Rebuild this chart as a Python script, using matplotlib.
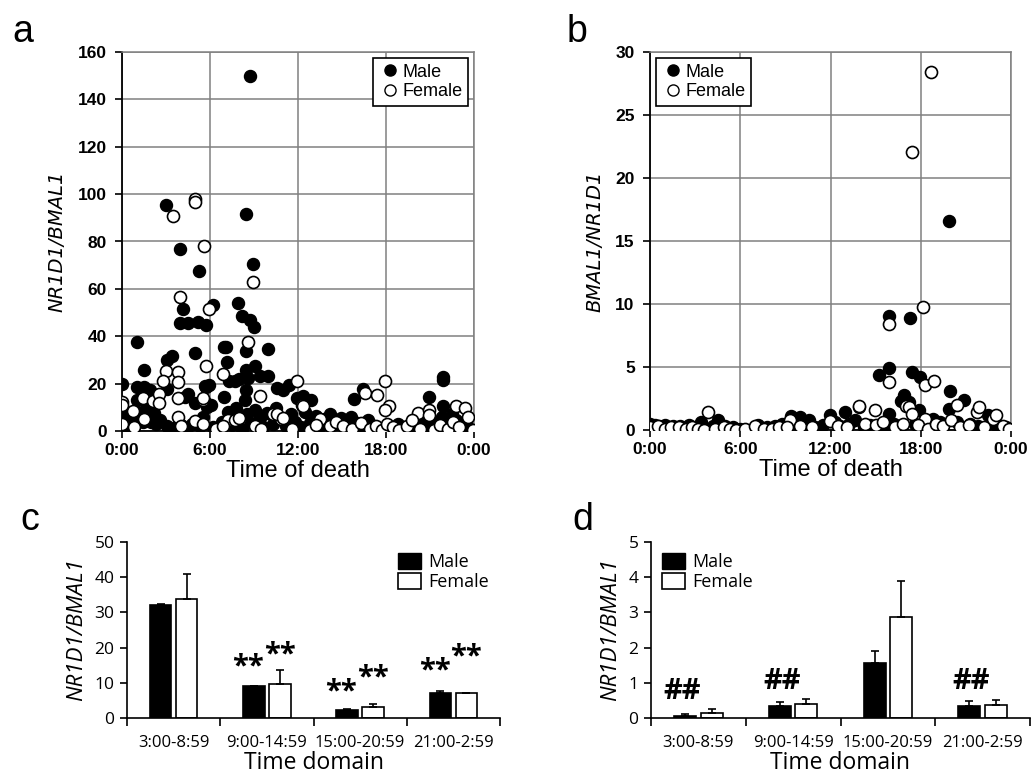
import matplotlib
matplotlib.use("Agg")
import matplotlib.pyplot as plt
import numpy as np
from matplotlib.patches import Patch
from matplotlib.lines import Line2D

# ---- panel a: NR1D1/BMAL1 vs time of death (hours) ----
a_male_t = [0.0, 1.0, 1.5, 3.05, 3.43, 2.98, 3.95, 4.18, 3.95, 4.52, 5.2, 5.7, 5.25, 5.0,
            6.22, 7.93, 8.16, 8.73, 9.0, 8.43, 8.95, 8.73, 7.1, 8.43, 9.93, 6.95, 7.18, 9.07,
            8.43, 8.6, 9.4, 9.97, 7.3, 7.7, 8.0, 5.96, 5.73, 6.95, 8.45, 8.4, 5.77, 1.0, 1.5,
            1.9, 3.05, 4.5, 4.3, 5.66, 1.0, 1.5, 5.0, 5.7, 10.6, 11.0, 11.4, 11.9, 12.36, 12.9,
            16.4, 15.8, 20.9, 21.9, 21.9, 21.9, 7.8, 6.1,
            0.0, 0.0, 0.0, 0.0, 0.0, 0.1, 0.6, 1.0, 1.4, 2.0, 2.3, 2.6, 1.1, 1.7, 2.2, 3.1, 3.7,
            4.0, 4.4, 4.8, 5.3, 5.5, 6.2, 6.8, 7.2, 7.5, 7.9, 8.2, 8.5, 8.8, 9.1, 9.4, 9.6, 9.9,
            10.3, 10.5, 10.8, 11.2, 11.5, 11.8, 12.2, 12.5, 12.8, 13.2, 13.5, 13.8, 14.2, 14.5,
            14.9, 15.3, 15.6, 16.0, 16.4, 16.8, 17.2, 17.6, 18.3, 18.8, 19.2, 19.7, 20.1, 20.5,
            21.0, 21.4, 21.8, 22.1, 22.5, 22.8, 23.2, 23.5, 23.8]
a_male_v = [20.0, 37.4, 25.7, 30.0, 31.6, 95.4, 76.9, 51.3, 45.4, 45.6, 46.0, 44.9, 67.5, 33.0,
            53.0, 54.1, 48.5, 47.0, 44.0, 91.6, 70.7, 149.8, 35.5, 33.6, 34.5, 35.6, 29.3, 27.6,
            25.7, 22.2, 23.2, 23.2, 21.2, 21.3, 22.0, 19.4, 18.7, 14.5, 17.3, 13.2, 10.3, 18.4, 18.4,
            17.3, 17.8, 15.7, 14.4, 19.2, 13.0, 13.0, 11.7, 11.7, 18.0, 17.3, 19.4, 13.8, 14.8, 13.1,
            17.7, 13.5, 14.5, 22.8, 21.6, 10.5, 9.9, 10.9,
            9.0, 7.2, 5.1, 3.7, 2.0, 1.0, 5.4, 3.9, 3.9, 3.9, 3.0, 4.5, 8.0, 10.0, 7.5, 2.0, 1.5,
            2.5, 1.2, 3.0, 2.0, 6.0, 1.5, 4.0, 8.0, 2.5, 5.0, 1.0, 7.0, 3.5, 9.0, 5.5, 1.8, 7.5,
            3.0, 9.5, 5.5, 2.0, 7.0, 4.0, 1.5, 8.0, 3.5, 6.5, 2.0, 5.0, 7.0, 3.0,
            5.5, 1.5, 6.0, 3.5, 1.0, 4.5, 2.0, 0.8, 1.5, 3.0, 1.0, 2.5, 0.5, 3.0,
            1.5, 4.0, 6.0, 2.0, 7.0, 4.6, 1.0, 2.0, 0.5]
a_female_t = [3.45, 4.98, 4.95, 5.6, 3.95, 5.95, 8.95, 8.6, 5.73, 2.98, 3.8, 3.8, 2.8, 6.9,
              1.45, 2.1, 2.5, 2.5, 0.75, 0.0, 0.0, 3.8, 3.8, 5.55, 5.5, 5.0, 4.0, 5.5, 7.2, 7.7,
              9.05, 10.3, 10.85, 11.9, 12.25, 12.36, 10.6, 11.0, 13.5, 14.2, 14.6, 15.1, 16.6,
              17.9, 17.4, 18.2, 17.9, 22.8, 23.4, 20.2, 20.9, 20.95, 9.4, 0.0, 0.8, 1.5, 6.4,
              6.9, 8.0, 9.5, 11.6, 12.8, 13.2, 15.7, 16.3, 16.9, 17.3, 17.7, 18.1, 18.5, 18.9,
              19.4, 19.8, 20.3, 21.3, 21.7, 22.2, 22.6, 23.0, 23.6, 23.9]
a_female_v = [90.8, 97.8, 96.5, 78.0, 56.4, 51.3, 62.7, 37.7, 27.3, 25.3, 24.9, 20.7, 21.0, 24.2,
              13.9, 12.5, 15.6, 11.8, 8.6, 12.4, 11.0, 13.9, 5.9, 13.0, 14.0, 4.2, 2.1, 3.1, 4.5, 4.5,
              2.2, 7.2, 5.1, 21.1, 11.0, 10.5, 7.3, 5.6, 5.1, 2.0, 4.0, 2.2, 16.0,
              21.1, 15.2, 10.7, 8.9, 10.5, 9.8, 7.4, 8.9, 6.8, 14.8, 3.0, 1.5, 5.0, 1.0,
              2.0, 5.5, 1.0, 1.0, 0.5, 2.5, 1.0, 3.5, 1.0, 2.0, 0.5, 3.0, 1.5, 0.5,
              2.0, 4.5, 1.0, 0.5, 2.5, 0.8, 4.0, 1.5, 6.0, 0.5]

# ---- panel b: BMAL1/NR1D1 vs time of death ----
b_male_t = [0.0, 0.3, 0.6, 1.0, 1.5, 2.0, 2.6, 3.0, 3.4, 3.8, 4.2, 4.5, 5.0, 5.5, 6.0, 7.2,
            7.8, 8.3, 8.8, 9.4, 9.96, 9.8, 10.2, 10.6, 11.0, 11.5, 11.95, 12.3, 12.6, 12.95,
            13.2, 13.6, 13.9, 14.2, 14.6, 15.23, 15.9, 15.9, 15.9, 15.6, 16.2, 16.9, 16.9, 16.7,
            17.2, 17.3, 17.42, 17.93, 17.9, 17.6, 18.4, 18.8, 19.3, 19.88, 19.92, 19.9, 20.4,
            20.9, 21.3, 21.8, 22.5, 22.9, 23.3, 23.7, 16.3, 14.9]
b_male_v = [0.5, 0.4, 0.3, 0.4, 0.3, 0.3, 0.4, 0.2, 0.6, 0.1, 0.3, 0.8, 0.3, 0.2, 0.1, 0.4,
            0.2, 0.3, 0.5, 1.1, 1.0, 0.5, 0.3, 0.8, 0.2, 0.4, 1.2, 0.6, 0.3, 1.4,
            0.5, 0.8, 1.8, 0.2, 0.4, 4.4, 4.9, 9.05, 1.3, 0.3, 0.5, 2.8, 2.4, 2.3,
            2.2, 8.86, 4.6, 4.2, 1.6, 0.5, 0.3, 0.9, 0.6, 16.6, 3.1, 1.7, 0.6,
            2.4, 0.5, 0.3, 1.2, 0.5, 0.3, 0.2, 0.1, 0.0]
b_female_t = [18.66, 17.42, 15.9, 18.15, 15.9, 18.26, 18.88, 20.4, 17.0, 17.2, 14.94, 13.9, 9.3,
              3.87, 11.95, 21.76, 21.9, 22.8, 18.3, 17.45, 0.0, 0.5, 1.0, 1.4, 1.9, 2.4, 2.8,
              3.2, 3.6, 4.3, 4.9, 5.3, 5.7, 6.3, 7.0, 7.6, 8.1, 8.6, 9.1, 10.0, 10.8, 12.5,
              13.1, 14.3, 15.0, 15.5, 16.3, 16.8, 17.8, 18.5, 19.0, 19.5, 20.0, 20.6, 21.2,
              22.2, 23.0, 23.5, 23.9]
b_female_v = [28.4, 22.1, 8.4, 9.8, 3.8, 3.6, 3.9, 2.0, 1.9, 1.8, 1.6, 1.9, 0.8,
              1.4, 0.7, 1.4, 1.8, 0.9, 0.9, 1.3, 0.2, 0.3, 0.1, 0.2, 0.2, 0.1, 0.2,
              0.1, 0.0, 0.1, 0.2, 0.1, 0.0, 0.1, 0.3, 0.1, 0.1, 0.2, 0.2, 0.3, 0.2, 0.3,
              0.2, 0.5, 0.4, 0.6, 0.2, 0.5, 0.4, 0.1, 0.5, 0.3, 0.8, 0.2, 0.4,
              0.2, 1.2, 0.3, 0.1]

time_ticks = [0, 6, 12, 18, 24]
time_labels = ["0:00", "6:00", "12:00", "18:00", "0:00"]

# ---- panels c, d: means by time domain ----
domains = ["3:00-8:59", "9:00-14:59", "15:00-20:59", "21:00-2:59"]
c_male = [32.2, 9.0, 2.2, 7.2]
c_male_err = [0.3, 0.2, 0.3, 0.4]
c_female = [33.8, 9.6, 3.0, 7.1]
c_female_err = [7.2, 3.9, 1.0, 0.05]
c_marks = [(1, -0.2, 14.5), (1, 0.14, 18.0), (2, -0.2, 7.5), (2, 0.14, 11.4),
           (3, -0.2, 13.5), (3, 0.14, 17.3)]
d_male = [0.07, 0.35, 1.55, 0.35]
d_male_err = [0.03, 0.1, 0.36, 0.12]
d_female = [0.15, 0.41, 2.87, 0.38]
d_female_err = [0.1, 0.14, 1.03, 0.13]
d_marks = [(0, -0.17, 0.75), (1, -0.12, 1.05), (3, -0.12, 1.05)]

W, H = 1035, 783
fig = plt.figure(figsize=(W / 100, H / 100), dpi=100)

def box(l, t, r, b):
    return [l / W, 1 - b / H, (r - l) / W, (b - t) / H]

arial = "Liberation Sans"

def scatter_panel(rect, mt, mv, ft, fv, ymax, ystep, ylabel, legloc, letter, lx):
    ax = fig.add_axes(rect)
    ax.scatter(mt, mv, s=75, c="black", edgecolors="black", linewidths=1, zorder=3, label="Male")
    ax.scatter(ft, fv, s=75, c="white", edgecolors="black", linewidths=1.2, zorder=4, label="Female")
    ax.set_xlim(0, 24)
    ax.set_ylim(0, ymax)
    ax.set_xticks(time_ticks)
    ax.set_xticklabels(time_labels, fontfamily=arial, fontweight="bold", fontsize=12.5)
    ax.set_yticks(np.arange(0, ymax + 0.1, ystep))
    for t in ax.get_yticklabels():
        t.set_fontfamily(arial); t.set_fontweight("bold"); t.set_fontsize(12.5)
    ax.grid(True, color="#808080", linewidth=1.1)
    ax.set_axisbelow(True)
    for s in ["top", "right"]:
        ax.spines[s].set_color("#808080")
        ax.spines[s].set_linewidth(1.1)
    for s in ["left", "bottom"]:
        ax.spines[s].set_color("black")
        ax.spines[s].set_linewidth(1.3)
    ax.tick_params(axis="y", direction="out", length=5, width=1.2, pad=6)
    ax.tick_params(axis="x", direction="out", length=5, width=1.2, pad=4)
    ax.set_xlabel("Time of death", fontfamily=arial, fontsize=17, labelpad=1)
    ax.set_ylabel(ylabel, fontfamily="DejaVu Sans", fontstyle="italic", fontsize=14, labelpad=8)
    handles = [Line2D([], [], marker="o", ls="none", mfc="black", mec="black", ms=8),
               Line2D([], [], marker="o", ls="none", mfc="white", mec="black", ms=8)]
    leg = ax.legend(handles, ["Male", "Female"], loc=legloc, fancybox=False, edgecolor="black",
                    framealpha=1, prop={"family": arial, "size": 13}, handletextpad=0.1,
                    borderpad=0.3, handlelength=1.2, borderaxespad=0.35, labelspacing=0.15)
    leg.get_frame().set_linewidth(1.2)
    fig.text(lx / W, 1 - 32 / H, letter, fontfamily=arial, fontsize=27, va="center", ha="left")
    return ax

scatter_panel(box(122, 52, 474, 431), a_male_t, a_male_v, a_female_t, a_female_v,
              160, 20, "NR1D1/BMAL1", "upper right", "a", 12)
scatter_panel(box(650, 52, 1011, 430), b_male_t, b_male_v, b_female_t, b_female_v,
              30, 5, "BMAL1/NR1D1", "upper left", "b", 567)

body = "Open Sans"

def bar_panel(rect, male, merr, female, ferr, ymax, ystep, marks, mark, legloc, letter, lx):
    ax = fig.add_axes(rect)
    x = np.arange(len(domains))
    w = 0.23
    ax.bar(x - 0.14, male, w, color="black", edgecolor="black", linewidth=1.2, label="Male")
    ax.bar(x + 0.14, female, w, color="white", edgecolor="black", linewidth=1.2, label="Female")
    ax.errorbar(x - 0.14, male, yerr=[np.zeros(4), merr], fmt="none", ecolor="black",
                elinewidth=1.2, capsize=3, capthick=1.2)
    ax.errorbar(x + 0.14, female, yerr=[np.zeros(4), ferr], fmt="none", ecolor="black",
                elinewidth=1.2, capsize=3, capthick=1.2)
    ax.set_xlim(-0.5, len(domains) - 0.5)
    ax.set_ylim(0, ymax)
    ax.set_yticks(np.arange(0, ymax + 0.01, ystep))
    ax.set_xticks(x)
    ax.set_xticklabels(domains, fontfamily=body, fontsize=12)
    ax.set_xticks(np.arange(-0.5, len(domains), 1), minor=True)
    ax.tick_params(axis="x", which="major", length=0, pad=12)
    ax.tick_params(axis="x", which="minor", length=6, width=1.2, direction="out")
    ax.tick_params(axis="y", length=5, width=1.2, direction="out", pad=4)
    for t in ax.get_yticklabels():
        t.set_fontfamily(body); t.set_fontsize(12.5)
    for s in ["top", "right"]:
        ax.spines[s].set_visible(False)
    for s in ["left", "bottom"]:
        ax.spines[s].set_linewidth(1.2)
    ax.set_xlabel("Time domain", fontfamily=body, fontsize=16.5, labelpad=0)
    ax.set_ylabel("NR1D1/BMAL1", fontfamily=body, fontstyle="italic", fontsize=16, labelpad=5)
    for ci, off, y in marks:
        ax.text(ci + off, y, mark, ha="center", va="center", fontfamily=body,
                fontsize=21, fontweight="bold")
    handles = [Patch(facecolor="black", edgecolor="black"),
               Patch(facecolor="white", edgecolor="black", linewidth=1.2)]
    ax.legend(handles, ["Male", "Female"], loc=legloc, frameon=False,
              prop={"family": body, "size": 13}, handlelength=1.3, handleheight=1.0,
              handletextpad=0.4, labelspacing=0.1, borderaxespad=0.2)
    fig.text(lx / W, 1 - 520 / H, letter, fontfamily=arial, fontsize=27, va="center", ha="left")
    return ax

bar_panel(box(127, 542, 500, 718), c_male, c_male_err, c_female, c_female_err,
          50, 10, c_marks, "**", "upper right", "c", 20)
bar_panel(box(651, 542, 1030, 718), d_male, d_male_err, d_female, d_female_err,
          5, 1, d_marks, "##", "upper left", "d", 572)

fig.savefig("out.png", dpi=100)
